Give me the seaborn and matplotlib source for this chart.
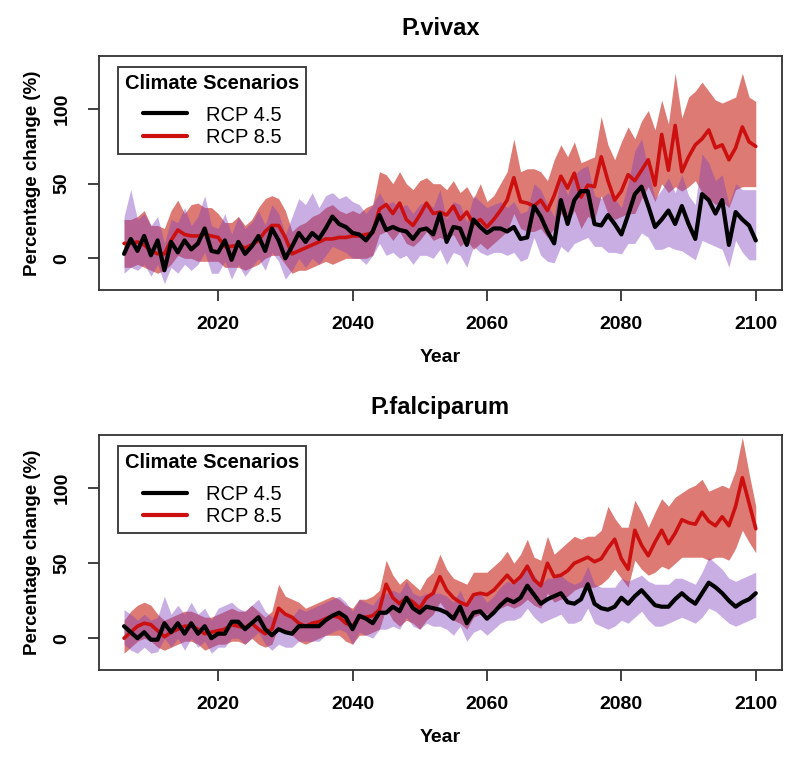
import matplotlib
matplotlib.use("Agg")
import matplotlib.pyplot as plt
from matplotlib.lines import Line2D
import pandas as pd
import seaborn as sns

years = list(range(2006, 2101))

# ---- P.vivax ----
viv45_mean = [3, 13, 5, 15, 2, 12, -8, 11, 4, 12,
              6, 10, 20, 5, 4, 12, -1, 11, 3, 8,
              15, 5, 20, 12, 0, 8, 17, 11, 17, 13,
              20, 28, 23, 21, 17, 16, 12, 18, 29, 19,
              21, 19, 18, 13, 19, 20, 16, 30, 11, 21,
              20, 9, 26, 21, 17, 20, 20, 18, 21, 13,
              14, 35, 28, 18, 10, 39, 23, 39, 45, 45,
              23, 22, 29, 23, 16, 29, 43, 48, 35, 21,
              26, 32, 23, 35, 23, 13, 43, 39, 30, 39,
              9, 31, 26, 22, 12]
viv45_lo = [-10, -6, -8, -4, -12, -4, -17, -6, -10, -4,
            -8, -4, 4, -10, -10, -2, -14, -4, -12, -6,
            0, -8, 4, -2, -14, -8, 0, -6, 0, -4,
            2, 8, 6, 4, 0, 0, -4, 2, 10, 2,
            4, 0, 2, -4, 2, 2, 0, 6, -4, 4,
            2, -6, 8, 4, 2, 4, 4, 2, 4, -2,
            0, 14, 2, -2, -3, 8, 4, 10, 12, 14,
            8, 8, 4, 4, 3, 10, 10, 17, 14, 6,
            6, 8, 6, 5, 2, -1, 12, 10, 8, 6,
            -6, 12, 4, -1, -1]
viv45_hi = [28, 46, 26, 30, 22, 28, 10, 26, 24, 34,
            22, 28, 42, 22, 20, 30, 16, 28, 20, 24,
            32, 22, 36, 30, 16, 28, 40, 36, 44, 34,
            42, 44, 40, 42, 38, 36, 30, 36, 44, 36,
            38, 34, 36, 30, 36, 38, 34, 46, 26, 38,
            36, 24, 42, 38, 34, 36, 38, 34, 38, 30,
            32, 50, 46, 36, 28, 56, 42, 56, 60, 62,
            42, 40, 44, 40, 34, 50, 72, 80, 60, 40,
            46, 54, 44, 56, 42, 36, 70, 64, 52, 56,
            36, 50, 46, 46, 46]
viv85_mean = [10, 10, 11, 9, 5, 3, 3, 12, 19, 16,
              15, 15, 16, 15, 14, 8, 8, 9, 7, 9,
              12, 18, 22, 22, 14, 3, 5, 7, 9, 11,
              13, 13, 14, 14, 15, 15, 16, 17, 33, 36,
              30, 37, 26, 22, 29, 37, 30, 31, 29, 35,
              26, 31, 23, 26, 21, 26, 32, 39, 54, 38,
              37, 35, 39, 32, 42, 55, 47, 57, 41, 49,
              48, 68, 52, 39, 45, 56, 52, 59, 66, 49,
              83, 59, 89, 58, 68, 76, 80, 86, 74, 76,
              66, 74, 88, 78, 75]
viv85_lo = [-6, -6, -4, -6, -8, -10, -8, -4, 2, 0,
            0, -2, -2, -2, -2, -6, -6, -6, -8, -6,
            -4, 0, 2, 2, -4, -10, -8, -8, -6, -4,
            -2, -4, -2, 0, 0, 0, 0, 2, 16, 18,
            12, 18, 10, 8, 12, 18, 12, 14, 12, 16,
            8, 12, 6, 10, 6, 10, 14, 18, 30, 20,
            18, 18, 20, 14, 20, 30, 24, 32, 20, 28,
            26, 42, 30, 26, 28, 30, 30, 40, 48, 38,
            50, 44, 48, 45, 48, 52, 44, 40, 36, 38,
            34, 46, 48, 48, 48]
viv85_hi = [26, 26, 28, 32, 22, 22, 20, 32, 39, 30,
            36, 37, 34, 34, 30, 24, 24, 28, 22, 26,
            34, 40, 42, 40, 32, 18, 22, 24, 28, 30,
            34, 36, 32, 30, 32, 30, 34, 36, 58, 56,
            50, 58, 50, 46, 52, 54, 50, 50, 46, 52,
            44, 48, 40, 50, 38, 42, 50, 58, 80, 58,
            60, 60, 58, 52, 66, 76, 68, 78, 64, 66,
            68, 95, 76, 66, 78, 88, 80, 92, 99, 86,
            106, 90, 124, 94, 108, 112, 118, 112, 106, 104,
            106, 108, 124, 108, 105]

# ---- P.falciparum ----
fal45_mean = [8, 4, 0, 4, -1, -1, 10, 4, 10, 3,
              10, 3, 8, 0, 3, 3, 11, 11, 6, 10,
              14, 6, 2, 6, 4, 3, 8, 8, 8, 8,
              12, 15, 17, 14, 6, 15, 13, 10, 17, 17,
              21, 18, 27, 20, 17, 21, 20, 19, 17, 13,
              21, 10, 17, 18, 13, 17, 22, 26, 24, 27,
              35, 29, 23, 26, 28, 30, 24, 23, 26, 36,
              23, 20, 19, 21, 27, 23, 28, 32, 27, 22,
              21, 21, 26, 30, 26, 23, 30, 37, 34, 30,
              25, 21, 24, 26, 30]
fal45_lo = [-4, -8, -10, -6, -10, -9, 0, -6, 0, -8,
            0, -6, -2, -10, -6, -6, 0, 0, -4, 0,
            4, -4, -8, -4, -6, -6, -2, -2, -2, -2,
            2, 4, 6, 4, -4, 4, 2, 0, 6, 6,
            8, 6, 14, 8, 6, 10, 8, 8, 6, 2,
            8, -2, 4, 6, 2, 6, 10, 12, 12, 14,
            20, 14, 10, 12, 14, 16, 10, 10, 12, 20,
            10, 8, 6, 8, 12, 10, 14, 18, 12, 8,
            8, 10, 12, 14, 12, 10, 14, 20, 18, 14,
            10, 8, 10, 12, 14]
fal45_hi = [19, 16, 12, 16, 12, 14, 28, 16, 22, 16,
            24, 16, 20, 12, 20, 22, 24, 20, 18, 22,
            26, 18, 14, 18, 16, 14, 20, 18, 20, 22,
            24, 26, 28, 24, 18, 26, 24, 22, 28, 30,
            32, 30, 38, 30, 28, 30, 30, 30, 28, 24,
            32, 22, 28, 30, 24, 28, 34, 38, 36, 40,
            50, 42, 36, 40, 40, 42, 38, 36, 38, 48,
            36, 34, 34, 34, 40, 38, 40, 42, 38, 36,
            36, 36, 40, 40, 38, 36, 44, 54, 50, 46,
            40, 38, 40, 42, 44]
fal85_mean = [0, 4, 8, 10, 9, 5, 1, 4, 6, 8,
              8, 6, 3, 4, 5, 6, 9, 8, 7, 10,
              6, 3, 6, 20, 16, 14, 10, 8, 10, 11,
              13, 15, 14, 10, 8, 14, 14, 15, 19, 36,
              27, 23, 27, 24, 20, 27, 30, 41, 32, 27,
              24, 22, 29, 30, 29, 32, 37, 42, 37, 41,
              48, 39, 35, 50, 41, 42, 45, 50, 52, 54,
              51, 53, 60, 66, 53, 46, 72, 62, 55, 64,
              72, 63, 70, 79, 77, 76, 84, 78, 75, 81,
              75, 88, 107, 90, 73]
fal85_lo = [-10, -6, -2, 0, -2, -6, -8, -6, -4, -2,
            -2, -4, -8, -6, -4, -4, -2, -2, -4, 0,
            -4, -6, -4, 8, 4, 2, -2, -4, -2, 0,
            2, 2, 2, -2, -4, 2, 2, 4, 6, 20,
            12, 8, 12, 10, 6, 12, 16, 24, 18, 12,
            10, 6, 14, 16, 16, 18, 20, 22, 20, 22,
            26, 22, 20, 30, 24, 26, 28, 32, 34, 34,
            34, 36, 40, 46, 40, 34, 52, 46, 42, 44,
            48, 46, 50, 54, 54, 54, 54, 52, 54, 54,
            52, 60, 72, 64, 57]
fal85_hi = [12, 18, 22, 24, 22, 16, 12, 14, 16, 18,
            18, 16, 14, 14, 16, 18, 20, 18, 18, 22,
            18, 14, 18, 36, 28, 26, 24, 20, 22, 24,
            26, 28, 26, 22, 20, 26, 26, 28, 32, 52,
            42, 36, 40, 36, 32, 40, 44, 56, 46, 40,
            38, 36, 44, 44, 44, 48, 52, 58, 50, 56,
            66, 54, 52, 68, 56, 60, 64, 68, 66, 68,
            68, 72, 88, 80, 74, 74, 92, 84, 74, 84,
            93, 88, 94, 97, 100, 102, 106, 98, 100, 102,
            100, 112, 134, 110, 88]

scenarios = ["RCP 4.5", "RCP 8.5"]
line_colors = {"RCP 4.5": "black", "RCP 8.5": "#CC1010"}
band85_color = "#C8281E"
band45_color = "#7F3FBF"

sns.set_style("ticks")
plt.rcParams['font.family'] = ['Liberation Sans', 'DejaVu Sans']
plt.rcParams['font.weight'] = 'bold'
for k in ["text.color", "axes.labelcolor", "xtick.color", "ytick.color"]:
    plt.rcParams[k] = "black"

fig = plt.figure(figsize=(8, 7.67), dpi=100)
W, H = 800, 767
ax1 = fig.add_axes([98.5 / W, 1 - 290 / H, 683.5 / W, 234 / H])
ax2 = fig.add_axes([98.5 / W, 1 - 670 / H, 683.5 / W, 235 / H])


def panel(ax, title, m45, lo45, hi45, m85, lo85, hi85):
    ax.fill_between(years, lo85, hi85, color=band85_color, alpha=0.62, lw=0)
    ax.fill_between(years, lo45, hi45, color=band45_color, alpha=0.42, lw=0)
    d85 = pd.DataFrame({"Year": years, "val": m85})
    d45 = pd.DataFrame({"Year": years, "val": m45})
    sns.lineplot(data=d85, x="Year", y="val", color=line_colors["RCP 8.5"],
                 linewidth=2.6, ax=ax, legend=False)
    sns.lineplot(data=d45, x="Year", y="val", color=line_colors["RCP 4.5"],
                 linewidth=3.0, ax=ax, legend=False)

    ax.set_xlim(2002.2, 2103.9)
    ax.set_ylim(-21.2, 135.5)
    ax.set_xticks([2020, 2040, 2060, 2080, 2100])
    ax.set_yticks([0, 50, 100])
    ax.tick_params(axis="both", length=8, width=1.3, color="#333333",
                   labelsize=14, labelcolor="black")
    ax.tick_params(axis="x", pad=11)
    ax.tick_params(axis="y", pad=12, labelrotation=90)
    for lab in ax.get_yticklabels():
        lab.set_va("center")
    for sp in ax.spines.values():
        sp.set_visible(True)
        sp.set_linewidth(1.3)
        sp.set_color("#333333")

    ax.set_title(title, fontsize=17, fontweight="bold", pad=15)
    ax.set_xlabel("Year", fontsize=14, fontweight="bold", labelpad=11)
    ax.set_ylabel("Percentage change (%)", fontsize=13.5, fontweight="bold",
                  labelpad=9)

    handles = [Line2D([], [], color=line_colors[s], lw=3) for s in scenarios]
    leg = ax.legend(handles, scenarios, title="Climate Scenarios",
                    loc="upper left", bbox_to_anchor=(0.0285, 0.953),
                    frameon=True, fancybox=False, edgecolor="black",
                    prop={"size": 14.5, "weight": "normal"},
                    title_fontproperties={"size": 14.5, "weight": "bold"},
                    borderpad=0.35, labelspacing=0.15, handlelength=2.2,
                    handletextpad=0.9, borderaxespad=0)
    leg.get_frame().set_linewidth(1.3)
    leg._legend_box.sep = 9


panel(ax1, "P.vivax", viv45_mean, viv45_lo, viv45_hi,
      viv85_mean, viv85_lo, viv85_hi)
panel(ax2, "P.falciparum", fal45_mean, fal45_lo, fal45_hi,
      fal85_mean, fal85_lo, fal85_hi)

fig.savefig("out.png", dpi=100)
